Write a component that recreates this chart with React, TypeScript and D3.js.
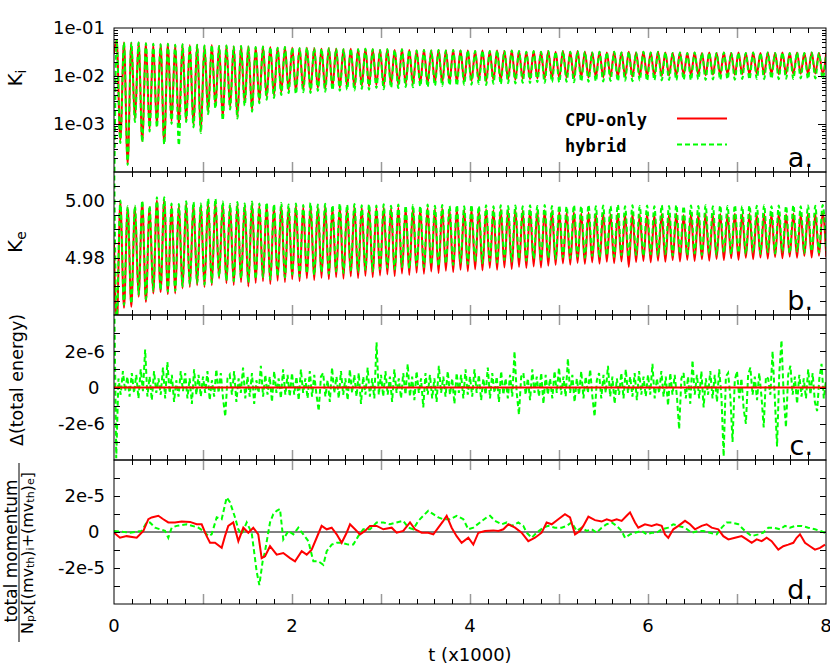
import React from "react";
import * as d3 from "d3";

// time axis, in units of 1000
const timeDomain = [0, 8];
const timeTickLabels = [0, 2, 4, 6, 8];

// panels a and b oscillate: one extremum every OSC_HALF, first one at OSC_T0
const OSC_T0 = 0.03;
const OSC_HALF = 0.0411;

// panel a: K_i (log scale)
const kiStartCpu = 0.03;
const kiStartHybrid = 1e-5;
const kiPeaks = [
  0.056, 0.05, 0.049, 0.05, 0.048, 0.047, 0.046, 0.047, 0.045, 0.046, 0.044, 0.045,
  0.043, 0.044, 0.042, 0.043, 0.041, 0.042, 0.041, 0.04, 0.041, 0.04, 0.039, 0.04,
  0.039, 0.038, 0.039, 0.038, 0.037, 0.038, 0.037, 0.036, 0.037, 0.036, 0.037, 0.036,
  0.035, 0.036, 0.035, 0.036, 0.035, 0.034, 0.035, 0.034, 0.035, 0.034, 0.035, 0.034,
  0.034, 0.033, 0.034, 0.033, 0.034, 0.033, 0.034, 0.033, 0.032, 0.033, 0.032, 0.033,
  0.032, 0.033, 0.032, 0.033, 0.032, 0.031, 0.032, 0.031, 0.032, 0.031, 0.032, 0.031,
  0.032, 0.031, 0.032, 0.031, 0.03, 0.031, 0.03, 0.031, 0.03, 0.031, 0.03, 0.031,
  0.03, 0.031, 0.03, 0.031, 0.03, 0.031, 0.03, 0.031, 0.03, 0.031, 0.03, 0.031, 0.03, 0.031,
];
const kiTroughsCpu = [
  4.6e-4, 1.5e-4, 1.27e-3, 4.4e-4, 7.9e-4, 9.1e-4, 4.0e-4, 1.15e-3, 9.0e-4, 1.15e-3, 9.5e-4, 7.1e-4,
  1.78e-3, 2.4e-3, 1.33e-3, 2.26e-3, 1.4e-3, 2.7e-3, 1.96e-3, 3.0e-3, 3.65e-3, 4.0e-3, 4.6e-3, 5.1e-3,
  4.8e-3, 5.3e-3, 5.0e-3, 5.6e-3, 5.4e-3, 5.9e-3, 5.7e-3, 6.0e-3, 5.8e-3, 6.3e-3, 6.1e-3, 6.5e-3,
  6.2e-3, 6.7e-3, 6.6e-3, 6.9e-3, 6.8e-3, 7.2e-3, 7.0e-3, 7.4e-3, 7.3e-3, 7.6e-3, 7.5e-3, 7.8e-3,
  7.9e-3, 8.1e-3, 7.8e-3, 8.3e-3, 8.2e-3, 8.5e-3, 8.4e-3, 8.7e-3, 8.6e-3, 8.9e-3, 8.8e-3, 9.1e-3,
  9.0e-3, 9.2e-3, 9.0e-3, 9.4e-3, 9.3e-3, 9.5e-3, 9.4e-3, 9.7e-3, 9.6e-3, 9.8e-3, 9.6e-3, 1.0e-2,
  9.9e-3, 1.01e-2, 1.0e-2, 1.03e-2, 1.02e-2, 1.05e-2, 1.03e-2, 1.06e-2, 1.04e-2, 1.07e-2, 1.05e-2, 1.08e-2,
  1.06e-2, 1.09e-2, 1.07e-2, 1.1e-2, 1.08e-2, 1.1e-2, 1.09e-2, 1.11e-2, 1.1e-2, 1.12e-2, 1.1e-2, 1.13e-2, 1.12e-2,
];
const kiTroughsHybrid = [
  4.0e-4, 1.4e-4, 1.1e-3, 4.2e-4, 7.0e-4, 8.5e-4, 3.8e-4, 1.0e-3, 3.6e-4, 1.1e-3, 8.5e-4, 6.5e-4,
  1.6e-3, 2.1e-3, 1.2e-3, 2.0e-3, 1.3e-3, 2.4e-3, 1.8e-3, 2.7e-3, 3.2e-3, 3.5e-3, 4.0e-3, 4.4e-3,
  4.2e-3, 4.6e-3, 4.4e-3, 4.9e-3, 4.7e-3, 5.1e-3, 4.9e-3, 5.2e-3, 5.0e-3, 5.4e-3, 5.2e-3, 5.6e-3,
  5.3e-3, 5.7e-3, 5.6e-3, 5.9e-3, 5.8e-3, 6.1e-3, 5.9e-3, 6.3e-3, 6.2e-3, 6.4e-3, 6.3e-3, 6.6e-3,
  6.6e-3, 6.8e-3, 6.5e-3, 6.9e-3, 6.8e-3, 7.1e-3, 7.0e-3, 7.2e-3, 7.1e-3, 7.4e-3, 7.2e-3, 7.5e-3,
  7.4e-3, 7.6e-3, 7.4e-3, 7.7e-3, 7.6e-3, 7.8e-3, 7.7e-3, 7.9e-3, 7.8e-3, 8.0e-3, 7.8e-3, 8.1e-3,
  8.0e-3, 8.2e-3, 8.1e-3, 8.3e-3, 8.2e-3, 8.4e-3, 8.2e-3, 8.5e-3, 8.3e-3, 8.5e-3, 8.4e-3, 8.6e-3,
  8.4e-3, 8.7e-3, 8.5e-3, 8.7e-3, 8.6e-3, 8.8e-3, 8.6e-3, 8.8e-3, 8.7e-3, 8.9e-3, 8.7e-3, 8.9e-3, 8.8e-3,
];
const kiTickValues = [1e-1, 1e-2, 1e-3];
const kiTickLabels = ["1e-01", "1e-02", "1e-03"];

// panel b: K_e
const keStartCpu = 4.985;
const keStartHybrid = 5.02;
const keTroughsCpu = [
  4.955, 4.9625, 4.9629, 4.9664, 4.9646, 4.9675, 4.968, 4.9673, 4.9675, 4.9693, 4.9698, 4.9704, 4.9698, 4.9704, 4.9728, 4.9711,
  4.9705, 4.9715, 4.97, 4.9712, 4.9718, 4.9708, 4.972, 4.9715, 4.9725, 4.9718, 4.9728, 4.9722, 4.973, 4.9725, 4.9732, 4.9727, 4.9735, 4.9729, 4.9737, 4.9732,
  4.9738, 4.9742, 4.9736, 4.9745, 4.974, 4.9748, 4.9744, 4.9752, 4.9747, 4.9755, 4.975, 4.9758, 4.9753, 4.976, 4.9756, 4.9764, 4.9758, 4.9766, 4.9761, 4.9768, 4.9764, 4.977, 4.9766, 4.9772,
  4.9775, 4.978, 4.9776, 4.9782, 4.9778, 4.9784, 4.9779, 4.9786, 4.9781, 4.9787, 4.9768, 4.9785, 4.9789, 4.9784, 4.979, 4.9786, 4.9792, 4.9787, 4.9793,
  4.9789, 4.9795, 4.979, 4.9796, 4.9792, 4.9798, 4.9793, 4.98, 4.9795, 4.9801, 4.9797, 4.9803, 4.9798, 4.9804, 4.98, 4.9806, 4.9801, 4.9807, 4.9803,
];
const keTroughsHybrid = [
  4.958, 4.9635, 4.964, 4.9672, 4.9655, 4.9684, 4.9688, 4.9682, 4.9684, 4.97, 4.9706, 4.9712, 4.9706, 4.9713, 4.9735, 4.972,
  4.9718, 4.9728, 4.9714, 4.9726, 4.9732, 4.9724, 4.9736, 4.9731, 4.9742, 4.9735, 4.9746, 4.974, 4.975, 4.9744, 4.9752, 4.9747, 4.9756, 4.975, 4.9758, 4.9753,
  4.976, 4.9765, 4.9759, 4.9768, 4.9763, 4.9772, 4.9767, 4.9776, 4.9771, 4.978, 4.9775, 4.9783, 4.9778, 4.9786, 4.9781, 4.9789, 4.9784, 4.9792, 4.9787, 4.9795, 4.979, 4.9797, 4.9792, 4.9799,
  4.9796, 4.9802, 4.9798, 4.9804, 4.98, 4.9806, 4.9801, 4.9808, 4.9803, 4.9809, 4.9804, 4.981, 4.9806, 4.9812, 4.9807, 4.9813, 4.9808, 4.9814, 4.9809,
  4.9815, 4.981, 4.9816, 4.9811, 4.9817, 4.9812, 4.9818, 4.9813, 4.9819, 4.9814, 4.982, 4.9815, 4.9821, 4.9816, 4.9822, 4.9817, 4.9823, 4.9818, 4.9824,
];
const kePeaksCpu = [
  4.9995, 4.9975, 4.9977, 4.9993, 4.9977, 5.0, 5.0002, 4.9983, 4.9982, 4.999, 4.9988, 4.9985, 4.9995, 4.9996, 4.999, 4.9982,
  4.9988, 4.9985, 4.999, 4.9983, 4.9986, 4.998, 4.9984, 4.9979, 4.9982, 4.9978, 4.9981, 4.9977, 4.998, 4.9976, 4.9979, 4.9977, 4.998, 4.9976, 4.9978, 4.9975,
  4.9977, 4.9974, 4.9976, 4.9973, 4.9975, 4.9972, 4.9974, 4.9971, 4.9973, 4.997, 4.9972, 4.9969, 4.9971, 4.9968, 4.997, 4.9967, 4.9969, 4.9966, 4.9968, 4.9965, 4.9967, 4.9964, 4.9966, 4.9963,
  4.9962, 4.9958, 4.996, 4.9956, 4.9958, 4.9954, 4.9957, 4.9953, 4.9955, 4.9952, 4.9955, 4.9951, 4.9954, 4.995, 4.9953, 4.9951, 4.9954, 4.995,
  4.9953, 4.9951, 4.9954, 4.995, 4.9953, 4.9951, 4.9954, 4.9952, 4.9955, 4.9951, 4.9954, 4.9952, 4.9955, 4.9951, 4.9954, 4.9952, 4.9955, 4.9953, 4.9956,
];
const kePeaksHybrid = [
  5.0, 4.998, 4.9982, 5.0, 4.9982, 5.0012, 5.0012, 4.999, 4.9988, 4.9998, 4.9995, 4.999, 5.0006, 5.0006, 4.9997, 4.9988,
  4.9995, 4.999, 4.9997, 4.999, 4.9993, 4.9987, 4.9992, 4.9986, 4.999, 4.9985, 4.9992, 4.9986, 4.9989, 4.9984, 4.999, 4.9985, 4.9988, 4.9984, 4.9987, 4.9983,
  4.9987, 4.9982, 4.9986, 4.9982, 4.9985, 4.9981, 4.9986, 4.9982, 4.9985, 4.9981, 4.9984, 4.998, 4.9985, 4.9981, 4.9984, 4.998, 4.9984, 4.9981, 4.9983, 4.998, 4.9984, 4.9981, 4.9985, 4.9981,
  4.9983, 4.998, 4.9984, 4.9981, 4.9985, 4.998, 4.9983, 4.9981, 4.9986, 4.998, 4.9984, 4.9981, 4.9983, 4.998, 4.9984, 4.9981, 4.9985, 4.998,
  4.9983, 4.9981, 4.9984, 4.998, 4.9983, 4.9981, 4.9984, 4.998, 4.9983, 4.9982, 4.9984, 4.998, 4.9983, 4.9981, 4.9984, 4.998, 4.9983, 4.9982, 4.9985,
];
const keTickValues = [5.0, 4.98];
const keTickLabels = ["5.00", "4.98"];

// panel c: change of total energy, units of 1e-6, one sample every 0.025
const energyStep = 0.025;
const energyHybrid = [
  6, -3.9, 0.5, -0.4, 0.9, -0.2, 0.6, -0.5, 0.8, -0.3, 0.7, -0.6, 1.0, -0.2, 2.1, -0.5, 0.6, -0.7, 0.9, -0.3,
  0.5, -0.4, 1.1, -0.6, 1.4, -0.3, 0.7, -0.8, 0.4, -0.5, 0.9, -0.2, 0.8, -0.6, 0.5, -0.9, 1.0, -0.4, 0.7, -0.5,
  0.6, -0.3, 0.9, -0.7, 0.4, -0.5, 1.0, -0.3, 0.8, -0.6, -1.6, 0.5, 0.7, -0.4, 0.9, -0.8, 0.5, -0.3, 1.1, -0.6,
  0.6, -0.5, 0.8, -0.9, 0.4, -0.3, 1.2, -0.5, 0.7, -0.4, 0.6, -0.8, 0.9, -0.3, 0.5, -0.6, 1.0, -0.4, 0.7, -0.5,
  0.8, -0.4, 0.6, -0.7, 1.0, -0.3, 0.5, -0.6, 0.9, -0.5, 0.7, -0.4, -1.3, 0.6, 0.8, -0.5, 0.4, -0.8, 1.1, -0.3,
  0.6, -0.6, 0.9, -0.4, 0.5, -0.7, 1.0, -0.3, 0.7, -0.5, 0.8, -0.9, 0.6, -0.4, 1.1, -0.5, 0.5, -0.6, 2.5, -0.4,
  0.7, -0.5, 0.9, -0.4, 0.6, -0.8, 1.0, -0.3, 0.5, -0.6, 0.8, -0.4, 1.3, -0.5, 0.6, -0.7, 0.9, -0.3, 0.5, -1.1,
  0.8, -0.4, 0.7, -0.6, 0.5, -0.8, 1.2, -0.3, 0.6, -0.5, 0.9, -0.4, 0.5, -0.9, 0.8, -0.3, 0.7, -0.6, 1.0, -0.4,
  0.6, -0.5, 1.0, -0.3, 0.7, -0.7, 0.5, -0.4, 1.1, -0.6, 0.8, -0.3, 0.6, -0.8, 0.9, -0.4, 0.5, -0.6, 0.7, -0.5,
  2.0, -0.3, -1.5, 0.6, 0.8, -0.4, 0.5, -0.7, 1.0, -0.3, 0.6, -0.5, 0.8, -0.9, 0.7, -0.4, 0.5, -0.6, 0.9, -0.3,
  1.1, -0.4, 0.6, -0.5, 1.6, -0.3, 0.7, -0.8, 0.5, -0.4, 0.9, -0.6, 0.6, -0.3, 1.0, -0.5, -1.6, 0.4, 0.8, -0.6,
  0.7, -0.3, 1.2, -0.5, 0.6, -0.9, 0.5, -0.4, 0.8, -0.6, 1.0, -0.3, 0.6, -0.5, 0.8, -0.7, 0.9, -0.4, 0.6, -0.5,
  0.7, -0.4, 1.3, -0.6, 0.5, -0.3, 0.9, -0.5, 0.6, -1.0, 0.8, -0.4, 0.7, -0.5, -2.3, 0.5, 0.8, -0.6, 0.6, -0.9,
  1.5, -0.4, 0.7, -0.6, 0.9, -1.1, 0.5, -0.4, 0.9, -0.6, 0.7, -0.8, 1.0, -0.5, -3.8, 0.6, 0.8, -0.5, -3.0, 0.4,
  0.9, -0.6, 0.5, -1.2, -2.0, 0.7, 1.1, -0.4, 0.6, -0.7, 0.8, -0.5, -2.2, 0.6, 0.5, -0.4, 2.0, -0.6, -3.25, 0.8,
  2.6, -0.5, -2.2, 0.7, 1.2, -0.4, 0.6, -0.9, 0.7, -0.5, 0.5, -0.6, 1.0, -0.4, 0.8, -0.8, -1.3, 0.5, 1.3, -0.6,
  0.4,
];
const energyCpu = [[0, 0], [8, 0]];
const energyTickValues = [2, 0, -2];
const energyTickLabels = ["2e-6", "0", "-2e-6"];

// panel d: normalised total momentum, units of 1e-5, [t, value]
const momentumCpu = [
  [0, -0.04], [0.067, -0.32], [0.142, -0.23], [0.255, -0.32], [0.33, 0.06], [0.386, 0.71], [0.423, 0.81], [0.498, 0.9],
  [0.554, 0.71], [0.61, 0.53], [0.685, 0.53], [0.76, 0.58], [0.854, 0.56], [0.929, 0.43], [0.985, 0.43], [1.041, -0.23],
  [1.079, -0.6], [1.135, -0.6], [1.21, -0.88], [1.247, -0.23], [1.284, 0.34], [1.34, 0.53], [1.397, -0.51], [1.453, 0.24],
  [1.509, -0.04], [1.565, 0.24], [1.621, -0.13], [1.659, -1.45], [1.697, -1.35], [1.753, -0.79], [1.828, -1.26], [1.902, -1.17],
  [1.978, -1.45], [2.034, -1.63], [2.109, -1.07], [2.165, -1.26], [2.221, -0.98], [2.277, -0.32], [2.333, 0.34], [2.39, 0.15],
  [2.446, 0.24], [2.502, -0.13], [2.558, -0.6], [2.614, -0.04], [2.652, 0.43], [2.708, 0.15], [2.764, -0.13], [2.82, 0.06],
  [2.876, 0.34], [2.951, 0.34], [3.026, 0.15], [3.12, 0.24], [3.176, -0.04], [3.25, 0.06], [3.326, 0.53], [3.382, 0.15],
  [3.457, -0.04], [3.531, -0.04], [3.588, -0.13], [3.644, 0.24], [3.7, 0.62], [3.738, 0.9], [3.794, 0.24], [3.85, -0.23],
  [3.906, -0.6], [3.981, -0.32], [4.037, -0.7], [4.094, -0.04], [4.169, 0.06], [4.262, 0.09], [4.319, 0.06], [4.375, 0.15],
  [4.431, 0.43], [4.506, 0.24], [4.58, -0.04], [4.655, -0.51], [4.73, -0.32], [4.805, -0.04], [4.861, 0.53], [4.918, 0.43],
  [4.992, 0.71], [5.067, 0.99], [5.124, 0.81], [5.18, -0.13], [5.236, 0.06], [5.273, 0.34], [5.33, 0.85], [5.404, 0.66],
  [5.479, 0.58], [5.536, 0.71], [5.592, 0.62], [5.648, 0.71], [5.704, 0.62], [5.76, 0.9], [5.798, 1.09], [5.854, 0.53],
  [5.891, 0.24], [5.966, 0.43], [6.041, 0.34], [6.097, 0.43], [6.154, 0.34], [6.191, -0.13], [6.228, -0.32], [6.284, 0.15],
  [6.341, 0.34], [6.416, 0.62], [6.472, 0.43], [6.528, 0.15], [6.603, 0.34], [6.659, 0.43], [6.715, 0.24], [6.79, 0.15],
  [6.846, -0.23], [6.903, -0.41], [6.978, -0.32], [7.052, -0.23], [7.109, -0.41], [7.165, -0.6], [7.221, -0.41], [7.277, -0.51],
  [7.333, -0.32], [7.389, -0.51], [7.464, -0.98], [7.52, -0.79], [7.576, -0.7], [7.633, -0.6], [7.67, -0.32], [7.708, -0.13],
  [7.764, -0.6], [7.82, -0.79], [7.876, -0.98], [7.933, -0.88], [7.989, -0.7],
];
const momentumHybrid = [
  [0, 0.06], [0.18, -0.04], [0.311, 0.06], [0.367, 0.53], [0.404, 0.53], [0.461, 0.24], [0.517, 0.15], [0.573, 0.06],
  [0.61, -0.32], [0.648, 0.24], [0.704, 0.34], [0.816, 0.43], [0.948, 0.24], [1.003, 0.06], [1.06, -0.23], [1.097, -0.13],
  [1.154, 0.81], [1.21, 0.71], [1.266, 1.92], [1.303, 1.65], [1.36, 0.81], [1.397, 0.15], [1.434, -0.13], [1.491, 0.53],
  [1.547, -0.04], [1.603, -2.2], [1.633, -2.95], [1.67, -1.63], [1.697, -1.07], [1.753, 0.53], [1.79, 0.99], [1.828, 1.18],
  [1.865, 1.28], [1.902, -0.41], [1.959, 0.06], [2.015, -0.13], [2.071, 0.24], [2.127, -0.13], [2.184, -0.51], [2.24, -1.63],
  [2.296, -1.63], [2.352, -1.82], [2.39, -1.07], [2.446, -0.7], [2.502, -0.6], [2.558, -0.6], [2.633, -0.7], [2.689, -0.7],
  [2.745, -0.23], [2.801, 0.15], [2.876, 0.15], [2.951, 0.53], [3.026, 0.53], [3.101, 0.43], [3.176, 0.53], [3.25, 0.62],
  [3.307, 0.24], [3.363, 0.15], [3.419, 0.62], [3.475, 0.9], [3.531, 1.18], [3.588, 0.99], [3.644, 0.81], [3.7, 0.71],
  [3.775, 0.71], [3.85, 0.9], [3.925, 0.71], [3.981, 0.15], [4.037, 0.24], [4.112, 0.53], [4.187, 0.81], [4.225, 0.9],
  [4.281, 0.62], [4.356, 0.43], [4.412, 0.53], [4.468, 0.34], [4.543, 0.53], [4.599, 0.34], [4.637, -0.04], [4.693, -0.32],
  [4.749, -0.04], [4.824, 0.24], [4.88, 0.34], [4.955, 0.24], [5.03, 0.24], [5.086, 0.34], [5.142, 0.53], [5.199, 0.06],
  [5.255, 0.24], [5.311, 0.06], [5.367, 0.15], [5.423, -0.04], [5.479, 0.24], [5.536, 0.43], [5.592, 0.53], [5.648, 0.34],
  [5.704, 0.06], [5.742, -0.32], [5.798, -0.13], [5.854, -0.04], [5.929, 0.06], [5.985, -0.13], [6.041, -0.04], [6.097, -0.04],
  [6.154, 0.15], [6.228, 0.24], [6.284, 0.43], [6.341, 0.34], [6.416, 0.24], [6.491, -0.04], [6.565, 0.06], [6.621, 0.06],
  [6.697, -0.04], [6.772, -0.13], [6.828, 0.24], [6.884, 0.53], [6.94, 0.53], [7.015, 0.43], [7.09, 0.06], [7.165, -0.23],
  [7.239, -0.13], [7.295, -0.04], [7.352, 0.24], [7.408, 0.24], [7.483, 0.15], [7.539, 0.34], [7.596, 0.24], [7.652, 0.34],
  [7.727, 0.34], [7.801, 0.24], [7.876, 0.15], [7.933, 0.06], [7.989, -0.04],
];
const momentumTickValues = [2, 0, -2];
const momentumTickLabels = ["2e-5", "0", "-2e-5"];

const legendLabels = ["CPU-only", "hybrid"];

type Pt = [number, number];

const oscillation = (start: number, even: number[], odd: number[]): Pt[] => {
  const pts: Pt[] = [[0, start]];
  for (let j = 0; j < even.length + odd.length; j++) {
    pts.push([OSC_T0 + j * OSC_HALF, j % 2 === 0 ? even[j / 2] : odd[(j - 1) / 2]]);
  }
  return pts;
};

const FONT = "DejaVu Sans, sans-serif";
const RED = "#ff0000";
const GREEN = "#00ff00";
const LEFT = 114;
const RIGHT = 826;

const x = d3.scaleLinear().domain(timeDomain).range([LEFT, RIGHT]);

const panels = [
  {
    id: "a",
    top: 28,
    bottom: 172,
    y: d3.scaleLog().domain([1e-4, 1e-1]).range([172, 28]),
    log: true,
    cpu: oscillation(kiStartCpu, kiPeaks, kiTroughsCpu),
    hybrid: oscillation(kiStartHybrid, kiPeaks, kiTroughsHybrid),
    tickValues: kiTickValues,
    tickLabels: kiTickLabels,
    curve: d3.curveMonotoneX,
    cpuOnTop: false,
    zero: false,
  },
  {
    id: "b",
    top: 172,
    bottom: 315,
    y: d3.scaleLinear().domain([4.96, 5.01]).range([315, 172]),
    log: false,
    cpu: oscillation(keStartCpu, keTroughsCpu, kePeaksCpu),
    hybrid: oscillation(keStartHybrid, keTroughsHybrid, kePeaksHybrid),
    tickValues: keTickValues,
    tickLabels: keTickLabels,
    curve: d3.curveMonotoneX,
    cpuOnTop: false,
    zero: false,
  },
  {
    id: "c",
    top: 315,
    bottom: 460,
    y: d3.scaleLinear().domain([-4, 4]).range([460, 315]),
    log: false,
    cpu: energyCpu as Pt[],
    hybrid: energyHybrid.map((v, i) => [i * energyStep, v] as Pt),
    tickValues: energyTickValues,
    tickLabels: energyTickLabels,
    curve: d3.curveLinear,
    cpuOnTop: true,
    zero: true,
  },
  {
    id: "d",
    top: 460,
    bottom: 604,
    y: d3.scaleLinear().domain([-4, 4]).range([604, 460]),
    log: false,
    cpu: momentumCpu as Pt[],
    hybrid: momentumHybrid as Pt[],
    tickValues: momentumTickValues,
    tickLabels: momentumTickLabels,
    curve: d3.curveLinear,
    cpuOnTop: true,
    zero: true,
  },
];

const Panel = ({ p }: { p: (typeof panels)[number] }) => {
  const y = p.y as any;
  const line = d3
    .line<Pt>()
    .x((d) => x(d[0]))
    .y((d) => y(d[1]))
    .curve(p.curve);
  const yTicks: number[] = (y.ticks(10) as number[]).filter(
    (v) => y(v) > p.top + 0.5 && y(v) < p.bottom - 0.5
  );
  const xTicks = x.ticks(40).filter((t) => t > 0.01 && t < 7.99);
  const cpuPath = (
    <path d={line(p.cpu) || ""} fill="none" stroke={RED} strokeWidth={2} />
  );
  const hybPath = (
    <path
      d={line(p.hybrid) || ""}
      fill="none"
      stroke={GREEN}
      strokeWidth={2}
      strokeDasharray="5,3"
    />
  );
  return (
    <g>
      <clipPath id={`clip-${p.id}`}>
        <rect x={LEFT} y={p.top} width={RIGHT - LEFT} height={p.bottom - p.top} />
      </clipPath>
      {p.zero && (
        <line x1={LEFT} x2={RIGHT} y1={y(0)} y2={y(0)} stroke="#000" strokeWidth={1} />
      )}
      <g clipPath={`url(#clip-${p.id})`}>
        {p.cpuOnTop ? hybPath : cpuPath}
        {p.cpuOnTop ? cpuPath : hybPath}
      </g>
      {yTicks.map((v, i) => {
        const major = !p.log || Math.abs(Math.log10(v) - Math.round(Math.log10(v))) < 1e-6;
        const len = p.log ? (major ? 8 : 4) : 6;
        const yy = Math.round(y(v)) + 0.5;
        return (
          <g key={`yt${i}`} stroke="#000" strokeWidth={1}>
            <line x1={LEFT} x2={LEFT + len} y1={yy} y2={yy} />
            <line x1={RIGHT} x2={RIGHT - len} y1={yy} y2={yy} />
          </g>
        );
      })}
      {xTicks.map((t, i) => {
        const major = Math.abs(t - Math.round(t)) < 1e-6;
        const len = major ? 10 : 5;
        const xx = Math.round(x(t)) + 0.5;
        return (
          <g key={`xt${i}`} stroke={major ? "#999" : "#000"} strokeWidth={major ? 1.5 : 1}>
            <line x1={xx} x2={xx} y1={p.top} y2={p.top + len} />
            <line x1={xx} x2={xx} y1={p.bottom} y2={p.bottom - len} />
          </g>
        );
      })}
      <rect
        x={LEFT}
        y={p.top}
        width={RIGHT - LEFT}
        height={p.bottom - p.top}
        fill="none"
        stroke="#000"
        strokeWidth={1}
      />
      {p.tickValues.map((v, i) => (
        <text
          key={`yl${i}`}
          x={p.tickLabels[i] === "0" ? 99.5 : 105}
          y={y(v)}
          dy="0.35em"
          textAnchor="end"
          fontSize={18}
          fontFamily={FONT}
        >
          {p.tickLabels[i]}
        </text>
      ))}
      <text
        x={813}
        y={p.bottom - 5}
        textAnchor="end"
        fontSize={27}
        fontFamily={FONT}
      >
        {p.id}.
      </text>
    </g>
  );
};

export default function App() {
  return (
    <svg
      width={830}
      height={665}
      style={{ position: "absolute", left: 0, top: 0, background: "#fff" }}
    >
      <rect width={830} height={665} fill="#fff" />
      {panels.map((p) => (
        <Panel key={p.id} p={p} />
      ))}

      {/* legend in panel a */}
      <text x={565} y={126} fontSize={17} fontWeight="bold" fontFamily="DejaVu Sans Mono, monospace">
        {legendLabels[0]}
      </text>
      <line x1={677} x2={727} y1={118.5} y2={118.5} stroke={RED} strokeWidth={2} />
      <text x={565} y={152} fontSize={17} fontWeight="bold" fontFamily="DejaVu Sans Mono, monospace">
        {legendLabels[1]}
      </text>
      <line x1={677} x2={727} y1={144.5} y2={144.5} stroke={GREEN} strokeWidth={2} strokeDasharray="5,3" />

      {/* x axis labels */}
      {timeTickLabels.map((t) => (
        <text key={t} x={x(t)} y={632} textAnchor="middle" fontSize={18} fontFamily={FONT}>
          {t}
        </text>
      ))}
      <text x={470} y={661} textAnchor="middle" fontSize={18} fontFamily={FONT}>
        t (x1000)
      </text>

      {/* y axis titles */}
      <text transform="translate(22,78) rotate(-90)" textAnchor="middle" fontSize={20} fontFamily={FONT}>
        K<tspan dy={4} fontSize={14}>i</tspan>
      </text>
      <text transform="translate(22,242) rotate(-90)" textAnchor="middle" fontSize={20} fontFamily={FONT}>
        K<tspan dy={4} fontSize={14}>e</tspan>
      </text>
      <text transform="translate(23,380) rotate(-90)" textAnchor="middle" fontSize={17.5} fontFamily={FONT}>
        Δ(total energy)
      </text>
      <text transform="translate(16.5,551) rotate(-90)" textAnchor="middle" fontSize={17} fontFamily={FONT}>
        total momentum
      </text>
      <line x1={19} x2={19} y1={463} y2={642} stroke="#000" strokeWidth={1} />
      <text transform="translate(33,553) rotate(-90)" textAnchor="middle" fontSize={16} fontFamily={FONT}>
        N<tspan fontSize={11} dy={1}>p</tspan>
        <tspan dy={-1}>x[(mv</tspan>
        <tspan fontSize={11} dy={1}>th</tspan>
        <tspan dy={-1}>)</tspan>
        <tspan fontSize={11} dy={1}>i</tspan>
        <tspan dy={-1}>+(mv</tspan>
        <tspan fontSize={11} dy={1}>th</tspan>
        <tspan dy={-1}>)</tspan>
        <tspan fontSize={11} dy={1}>e</tspan>
        <tspan dy={-1}>]</tspan>
      </text>
    </svg>
  );
}
